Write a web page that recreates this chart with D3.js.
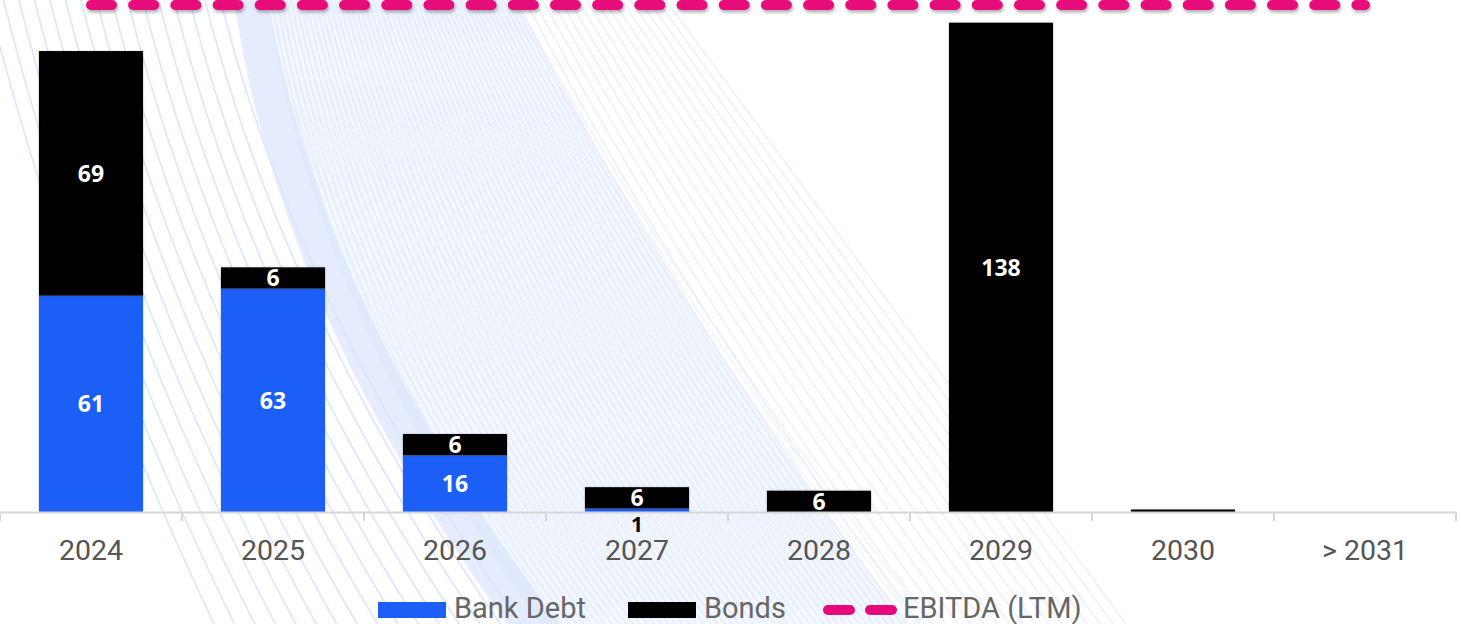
<!DOCTYPE html>
<html>
<head>
<meta charset="utf-8">
<script src="https://cdn.jsdelivr.net/npm/d3@7/dist/d3.min.js"></script>
<style>
  html, body { margin: 0; padding: 0; background: #fff; }
  svg { display: block; }
</style>
</head>
<body>
<svg id="chart" width="1461" height="624"></svg>
<script>
// Debt maturity profile
const categories = ["2024", "2025", "2026", "2027", "2028", "2029", "2030", "> 2031"];
const bankDebt   = [61, 63, 16, 1, 0, 0, 0, 0];
const bonds      = [69, 6, 6, 6, 6, 138, 0.7, 0];
const ebitdaLTM  = [143, 143, 143, 143, 143, 143, 143, 143];
const seriesNames = ["Bank Debt", "Bonds", "EBITDA (LTM)"];

const W = 1461, H = 624;
const svg = d3.select("#chart");
const BLUE = "#1f5ef6", BLACK = "#000000", PINK = "#e6097a";

// ---- decorative background waves ----
const bg = svg.append("g").attr("class", "background");
const lineGen = d3.line().curve(d3.curveBasis);
const ys = d3.range(-10, 641, 8);
const leftEdge = yy => 234 + 0.1467 * yy + 0.000467 * yy * yy;
const rightEdge = yy => 668 + 0.74 * yy;
const fan = (t, shift) => ys.map(yy => {
  const l = leftEdge(yy) + 34, r = rightEdge(yy);
  return [l + t * (r - l) + shift * yy, yy];
});

// faint haze over the dense part of the fan
const hazePts = fan(0, 0).concat(fan(0.62, 0).reverse());
bg.append("path").attr("d", lineGen(hazePts) + "Z")
  .attr("fill", "#eef3fd").attr("opacity", 0.7);

// soft band along the fan edge
const bandPts = ys.map(yy => [leftEdge(yy), yy])
  .concat(ys.slice().reverse().map(yy => [leftEdge(yy) + 34 + yy * 0.03, yy]));
bg.append("path").attr("d", lineGen(bandPts) + "Z")
  .attr("fill", "#dbe5fc").attr("opacity", 0.75);

// open stripes on the left
d3.range(-12, 232, 15.5).forEach(x0 => {
  const k = (x0 + 12) / 244;
  const pts = ys.map(yy => [x0 + 0.25 * yy + (0.00018 + k * 0.0002) * yy * yy, yy]);
  bg.append("path").attr("d", lineGen(pts))
    .attr("fill", "none").attr("stroke", "#dbe5fb").attr("stroke-width", 1.6);
});

// fan of fine lines between the band and the right edge
d3.range(0, 0.62, 0.012).forEach(t => {
  bg.append("path").attr("d", lineGen(fan(t, 0)))
    .attr("fill", "none").attr("stroke", "#e1e9fc").attr("stroke-width", 1.1);
  bg.append("path").attr("d", lineGen(fan(t + 0.006, 0.04)))
    .attr("fill", "none").attr("stroke", "#e6edfc").attr("stroke-width", 1);
});
d3.range(0.62, 1.001, 0.022).forEach(t => {
  bg.append("path").attr("d", lineGen(fan(t, 0)))
    .attr("fill", "none").attr("stroke", "#e4ebfc").attr("stroke-width", 1.2);
});

// ---- scales ----
const x = d3.scaleBand().domain(categories).range([0, 1456]).padding(0);
const y = d3.scaleLinear().domain([0, 144.4]).range([512, 0]);
const barW = x.bandwidth() * 0.572;

const defs = svg.append("defs");
const sh = defs.append("filter").attr("id", "shadow")
  .attr("filterUnits", "userSpaceOnUse")
  .attr("x", 0).attr("y", -20).attr("width", W).attr("height", 60);
sh.append("feDropShadow").attr("dx", 1).attr("dy", 2.5).attr("stdDeviation", 1.6)
  .attr("flood-color", "#000").attr("flood-opacity", 0.3);
const bsh = defs.append("filter").attr("id", "barShadow")
  .attr("x", "-10%").attr("y", "-10%").attr("width", "120%").attr("height", "120%");
bsh.append("feDropShadow").attr("dx", 0).attr("dy", 0).attr("stdDeviation", 1)
  .attr("flood-color", "#000").attr("flood-opacity", 0.2);

// ---- stacked bars ----
const rows = categories.map((c, i) => ({ cat: c, bank: bankDebt[i], bonds: bonds[i] }));
const stack = d3.stack().keys(["bank", "bonds"])(rows);
const colors = { bank: BLUE, bonds: BLACK };

const barsG = svg.append("g").attr("class", "bars");
stack.forEach(layer => {
  barsG.append("g").attr("fill", colors[layer.key]).attr("filter", "url(#barShadow)")
    .selectAll("rect")
    .data(layer.filter(d => d[1] - d[0] > 0))
    .join("rect")
    .attr("x", d => x(d.data.cat) + (x.bandwidth() - barW) / 2)
    .attr("width", barW)
    .attr("y", d => y(d[1]))
    .attr("height", d => y(d[0]) - y(d[1]));
});

// ---- axis ----
const axisG = svg.append("g").attr("transform", "translate(0,512)");
axisG.call(d3.axisBottom(x).tickSize(0));
axisG.select(".domain").attr("stroke", "#d6d6d6").attr("stroke-width", 2);
axisG.selectAll(".tick text")
  .attr("font-family", "Roboto, sans-serif").attr("font-size", 28.5)
  .attr("fill", "#555").attr("y", 48).attr("dy", 0);
axisG.selectAll("line.bound")
  .data(categories.map(c => x(c)).concat([x.range()[1]]))
  .join("line").attr("class", "bound")
  .attr("x1", d => d).attr("x2", d => d)
  .attr("y1", 0).attr("y2", 9)
  .attr("stroke", "#d6d6d6").attr("stroke-width", 2);

// ---- value labels ----
const labelsG = svg.append("g").attr("font-family", "'Open Sans', sans-serif")
  .attr("font-weight", 700).attr("text-anchor", "middle");
stack.forEach(layer => {
  layer.forEach(d => {
    const v = d[1] - d[0];
    if (v < 1) return;
    const cx = x(d.data.cat) + x.bandwidth() / 2;
    const h = y(d[0]) - y(d[1]);
    if (h >= 14) {
      labelsG.append("text").attr("x", cx).attr("y", (y(d[0]) + y(d[1])) / 2)
        .attr("font-size", 23)
        .attr("dy", "0.36em").attr("fill", "#fff").text(d3.format("d")(v));
    } else {
      // too thin to hold its label: write it just under the baseline
      labelsG.append("text").attr("x", cx).attr("y", y(0) + 12)
        .attr("font-size", 21)
        .attr("dy", "0.36em").attr("fill", "#000").text(d3.format("d")(v));
    }
  });
});

// ---- EBITDA line ----
const ebitdaLine = d3.line()
  .x((d, i) => x(categories[i]) + x.bandwidth() / 2)
  .y(d => y(d));
svg.append("path").datum(ebitdaLTM)
  .attr("d", ebitdaLine)
  .attr("fill", "none").attr("stroke", PINK).attr("stroke-width", 10)
  .attr("stroke-linecap", "round").attr("stroke-dasharray", "21,21.18")
  .attr("filter", "url(#shadow)");

// ---- legend ----
const leg = svg.append("g").attr("font-family", "Roboto, sans-serif").attr("font-size", 29).attr("fill", "#666");
leg.append("rect").attr("x", 378).attr("y", 602).attr("width", 68).attr("height", 16).attr("fill", BLUE);
leg.append("text").attr("x", 454).attr("y", 618).text(seriesNames[0]);
leg.append("rect").attr("x", 628).attr("y", 602).attr("width", 68).attr("height", 16).attr("fill", BLACK);
leg.append("text").attr("x", 704).attr("y", 618).text(seriesNames[1]);
leg.append("line").attr("x1", 828).attr("x2", 892).attr("y1", 610).attr("y2", 610)
  .attr("stroke", PINK).attr("stroke-width", 10).attr("stroke-linecap", "round")
  .attr("stroke-dasharray", "22,20");
leg.append("text").attr("x", 903).attr("y", 618).text(seriesNames[2]);
</script>
</body>
</html>
